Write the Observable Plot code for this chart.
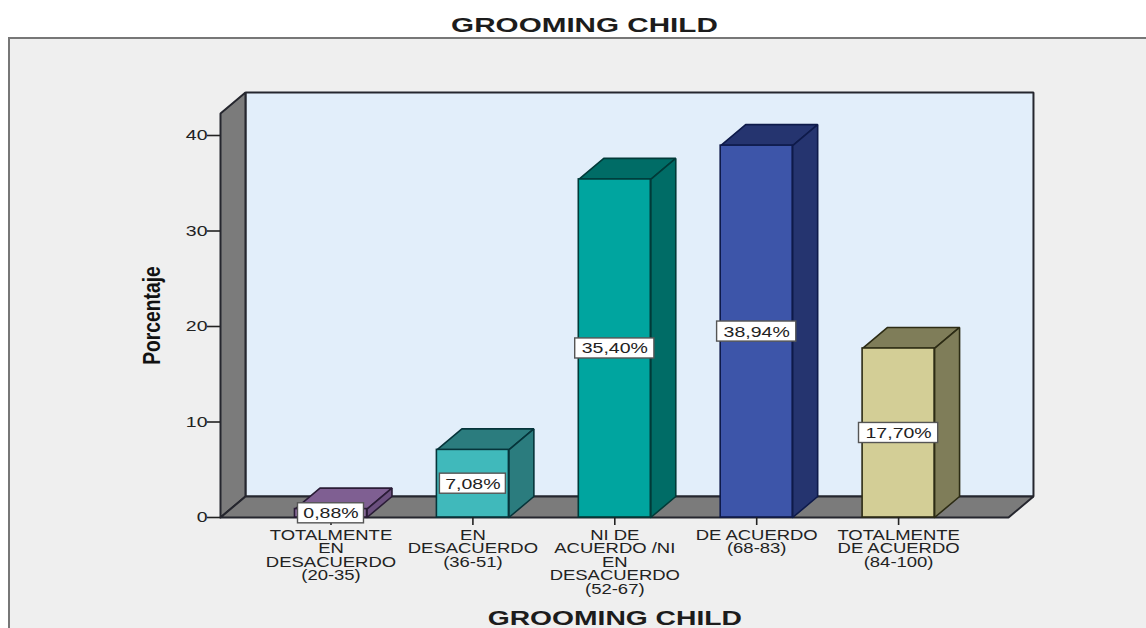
<!DOCTYPE html>
<html>
<head>
<meta charset="utf-8">
<script src="https://cdn.jsdelivr.net/npm/d3@7"></script>
<script src="https://cdn.jsdelivr.net/npm/@observablehq/plot@0.6"></script>
<style>
  html, body { margin: 0; padding: 0; background: #fff; }
  body { width: 1146px; height: 628px; position: relative; overflow: hidden; font-family: "Liberation Sans", Arial, sans-serif; }
  #panel { position: absolute; left: 8px; top: 37px; right: -4px; bottom: -4px; background: #efefef; border: 2px solid #777; }
  #title { position: absolute; left: 0; top: 13px; width: 1169px; text-align: center; font-size: 19.5px; line-height: 24px; font-weight: bold; color: #1c1c1c; transform: scaleX(1.52); transform-origin: 584.5px 0; }
  #chart { position: absolute; left: 0; top: 0; }
  #chart svg { background: transparent; display: block; }
</style>
</head>
<body>
<div id="panel"></div>
<div id="title">GROOMING CHILD</div>
<div id="chart"></div>
<script>
const categories = [
  "TOTALMENTE\nEN\nDESACUERDO\n(20-35)",
  "EN\nDESACUERDO\n(36-51)",
  "NI DE\nACUERDO /NI\nEN\nDESACUERDO\n(52-67)",
  "DE ACUERDO\n(68-83)",
  "TOTALMENTE\nDE ACUERDO\n(84-100)"
];
const percentages = [0.88, 7.08, 35.40, 38.94, 17.70];
const valueLabels = ["0,88%", "7,08%", "35,40%", "38,94%", "17,70%"];
const yTicks = [0, 10, 20, 30, 40];

const frontColors = ["#8f6fa0", "#40b9bb", "#00a59f", "#3d55a9", "#d3ce96"];
const topColors   = ["#7f5f92", "#2b7c7e", "#006c66", "#25346f", "#7f7d59"];
const sideColors  = ["#6b4f7e", "#2b7c7e", "#006c66", "#25346f", "#7f7d59"];
const edgeColors  = ["#2a1c36", "#06343a", "#013a38", "#0e1a4a", "#2c2b14"];

// depth of the pseudo-3D projection, in scale units
const depthX = 0.176, depthY = 2.2, halfBar = 0.2537;
const xMin = -0.7787, xMax = 4.7745, yMax = 42.3;
const wallEdge = "#25262e", wallFill = "#7b7b7b", backFill = "#e2eefa";

const poly = (pts, fill, stroke, sw = 1.6) =>
  Plot.line([...pts, pts[0]], {x: d => d[0], y: d => d[1], fill, stroke, strokeWidth: sw, curve: "linear", strokeLinejoin: "miter"});

// Stretch the text along its own axis, as in the reference picture.
const stretch = (sx) => (index, scales, values, dims, ctx, next) => {
  const g = next(index, scales, values, dims, ctx);
  d3.select(g).selectAll("text").attr("transform", function () {
    return (this.getAttribute("transform") || "") + ` scale(${sx},1)`;
  });
  return g;
};

const barData = percentages.map((v, i) => ({i, v, label: valueLabels[i]}));

const marks = [
  // back wall, left wall, floor
  poly([[xMin + depthX, depthY], [xMax + depthX, depthY], [xMax + depthX, yMax + depthY], [xMin + depthX, yMax + depthY]], backFill, wallEdge, 2),
  poly([[xMin, 0], [xMin + depthX, depthY], [xMin + depthX, yMax + depthY], [xMin, yMax]], wallFill, wallEdge, 2),
  poly([[xMin, 0], [xMax, 0], [xMax + depthX, depthY], [xMin + depthX, depthY]], wallFill, wallEdge, 2)
];

barData.forEach(({i, v}) => {
  const l = i - halfBar, r = i + halfBar;
  marks.push(
    poly([[l, v], [r, v], [r + depthX, v + depthY], [l + depthX, v + depthY]], topColors[i], edgeColors[i]),
    poly([[r, 0], [r + depthX, depthY], [r + depthX, v + depthY], [r, v]], sideColors[i], edgeColors[i]),
    Plot.rect([{i, v}], {x1: d => d.i - halfBar, x2: d => d.i + halfBar, y1: 0, y2: d => d.v, fill: frontColors[i], stroke: edgeColors[i], strokeWidth: 1.6})
  );
});

marks.push(
  Plot.axisX({
    ticks: categories.map((_, i) => i),
    tickFormat: i => categories[i],
    tickSize: 8, tickPadding: 4.5, label: null, fontSize: 14, lineHeight: 0.97,
    fill: "#222", stroke: "#222", strokeWidth: 1.6, render: stretch(1.32)
  }),
  Plot.axisY({
    ticks: yTicks, tickSize: 13, tickPadding: 0, label: null, fontSize: 15,
    fill: "#222", stroke: "#222", strokeWidth: 1.6, render: stretch(1.3)
  }),
  Plot.rect(barData, {
    x1: d => d.i - d.label.length * 0.0465,
    x2: d => d.i + d.label.length * 0.0465,
    y1: d => d.v / 2 - 1.05,
    y2: d => d.v / 2 + 1.05,
    fill: "#fff", stroke: "#555", strokeWidth: 1.4
  }),
  Plot.text(barData, {
    x: "i", y: d => d.v / 2, text: "label", fontSize: 15.5, fill: "#222", render: stretch(1.26)
  }),
  Plot.text(["Porcentaje"], {
    x: [-1.255], y: [21.15], text: d => d, rotate: -90, fontSize: 23, fontWeight: "bold",
    fill: "#111", render: stretch(0.84)
  }),
  Plot.text(["GROOMING CHILD"], {
    x: [2], y: [-10.6], text: d => d, fontSize: 19.5, fontWeight: "bold",
    fill: "#1c1c1c", render: stretch(1.45)
  })
);

const chart = Plot.plot({
  width: 1146,
  height: 628,
  marginLeft: 220,
  marginRight: 138,
  marginTop: 90,
  marginBottom: 111,
  style: {background: "transparent", fontFamily: "'Liberation Sans', Arial, sans-serif", overflow: "visible"},
  x: {type: "linear", domain: [xMin, xMax], axis: null},
  y: {type: "linear", domain: [0, 40], range: [517, 135], axis: null},
  marks
});
document.getElementById("chart").append(chart);
</script>
</body>
</html>
